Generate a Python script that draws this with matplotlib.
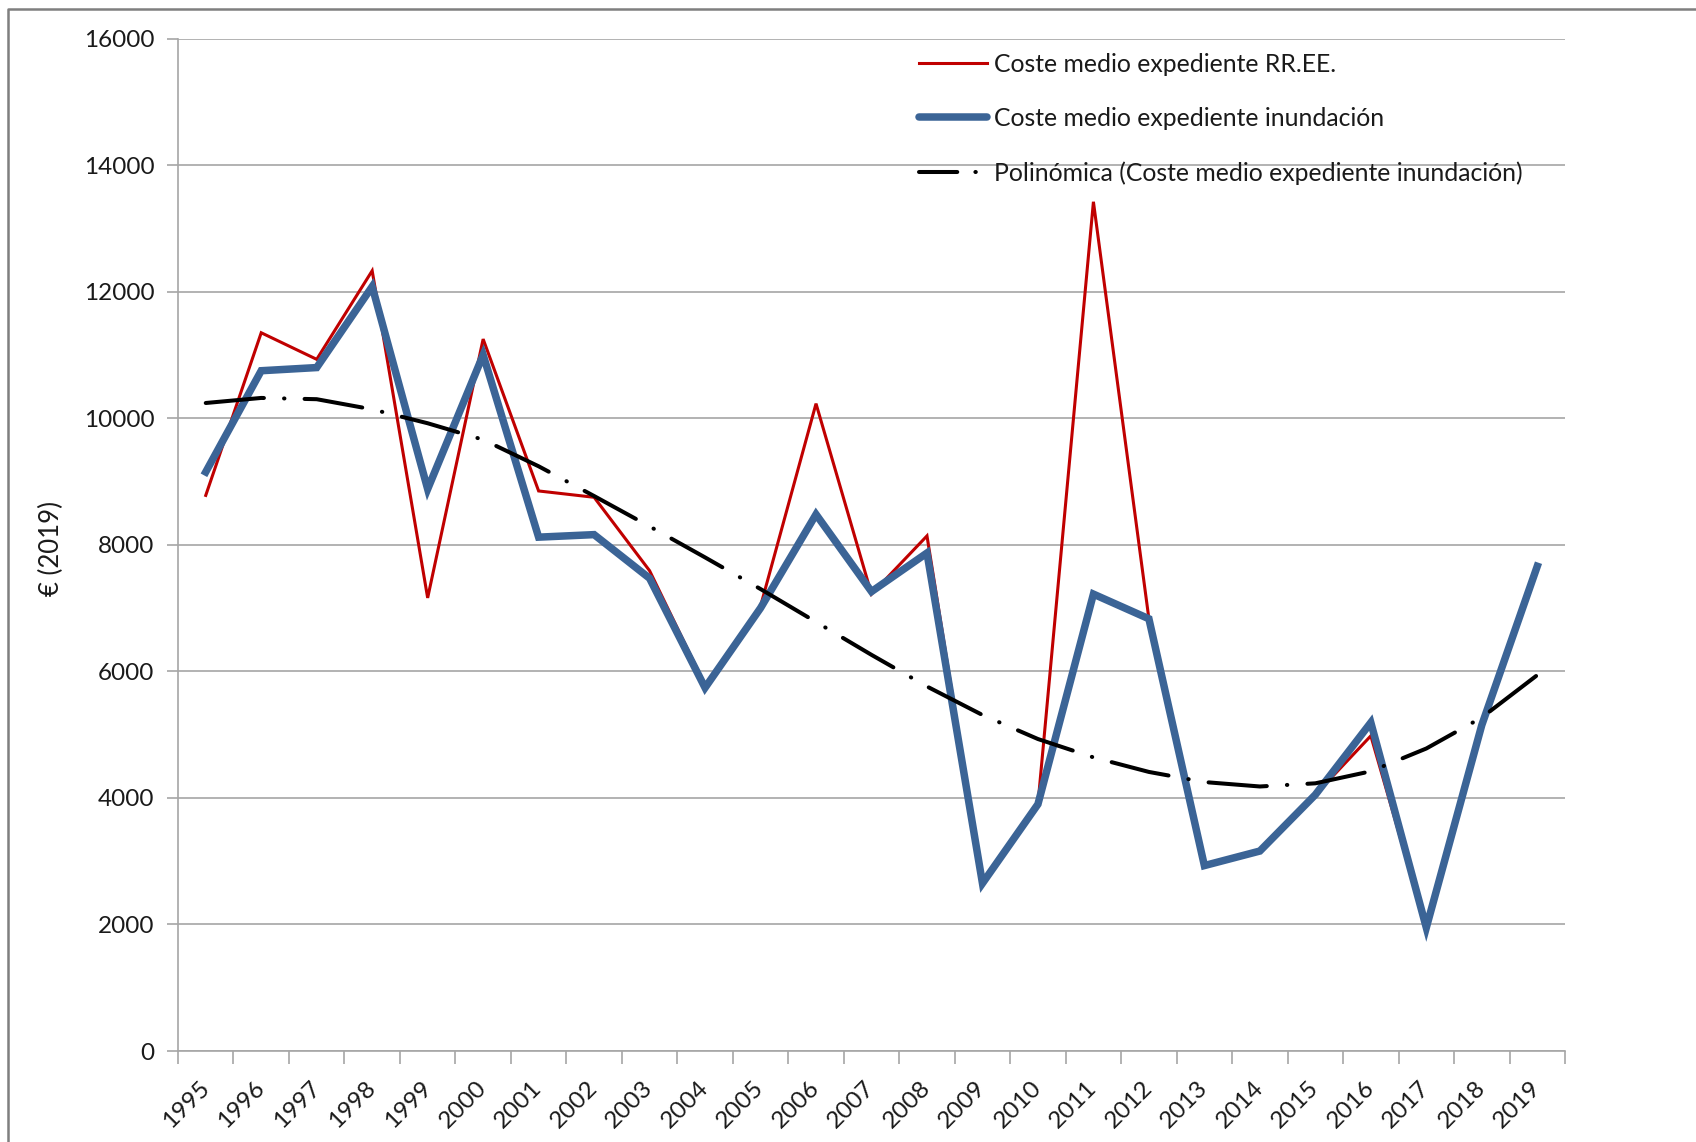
import numpy as np
import matplotlib
matplotlib.use("Agg")
import matplotlib.pyplot as plt
from matplotlib.lines import Line2D

plt.rcParams['font.family'] = ['Lato', 'DejaVu Sans']

# data
years = [str(y) for y in range(1995, 2020)]
coste_rree = [8780, 11350, 10930, 12330, 7160, 11250, 8850, 8750, 7590, 5780,
              7030, 10230, 7220, 8140, 2650, 3900, 13420, 6830, 2930, 3160,
              4050, 4980, 1950, 5150, 7660]
coste_inund = [9150, 10750, 10800, 12080, 8880, 11000, 8120, 8160, 7470, 5740,
               7000, 8480, 7260, 7870, 2650, 3900, 7220, 6830, 2930, 3160,
               4050, 5190, 1950, 5150, 7660]
tendencia = [10240, 10320, 10300, 10140, 9920, 9660, 9240, 8770, 8290, 7800,
             7300, 6780, 6260, 5760, 5310, 4930, 4640, 4410, 4250, 4180,
             4230, 4420, 4780, 5270, 5940]
yticks = list(range(0, 16001, 2000))

grey = '#A6A6A6'
txt = '#1A1A1A'
fs = 17.5
W, H = 1696, 1142
fig = plt.figure(figsize=(W / 100, H / 100), dpi=100)
ax = fig.add_axes([178 / W, 1 - 1051 / H, (1565 - 178) / W, (1051 - 38.5) / H])

x = np.arange(len(years))
ax.plot(x, coste_rree, '-', lw=2.2, color='#C00000', solid_joinstyle='miter')
ax.plot(x, coste_inund, '-', lw=5.4, color='#3B6496', solid_joinstyle='miter')
ax.plot(x, tendencia, lw=2.9, color='black', dashes=(14.5, 5, 0.1, 5),
        dash_capstyle='round')

ax.set_xlim(-0.5, len(years) - 0.5)
ax.set_ylim(0, 16000)
ax.set_yticks(yticks)
ax.set_yticklabels([str(v) for v in yticks], fontsize=fs, color=txt)
ax.tick_params(axis='y', length=8, width=1.2, color=grey, direction='out', pad=9)
ax.yaxis.grid(True, color=grey, lw=1.2)
ax.set_axisbelow(True)

# category boundaries carry the ticks, centres carry the labels
ax.set_xticks(np.arange(-0.5, len(years), 1))
ax.set_xticklabels([])
ax.tick_params(axis='x', which='major', length=9, width=1.2, color=grey, direction='out')
ax.set_xticks(x, minor=True)
ax.set_xticklabels(years, minor=True, rotation=45, ha='right', va='center',
                   rotation_mode='anchor', fontsize=fs, color=txt)
ax.tick_params(axis='x', which='minor', length=0, pad=24)

for s in ['top', 'right']:
    ax.spines[s].set_visible(False)
for s in ['left', 'bottom']:
    ax.spines[s].set_color(grey)
    ax.spines[s].set_linewidth(1.2)

fig.text(51 / W, 1 - 549 / H, '€ (2019)', rotation=90, ha='center', va='center',
         fontsize=18.5, color=txt)

# legend handles (the trend one uses a shorter dash so the dot shows)
handles = [
    Line2D([], [], lw=2.2, color='#C00000'),
    Line2D([], [], lw=5.4, color='#3B6496', solid_capstyle='round'),
    Line2D([], [], lw=2.9, color='black', dashes=(9.5, 4.5, 0.1, 6), dash_capstyle='round'),
]
labels = ['Coste medio expediente RR.EE.',
          'Coste medio expediente inundación',
          'Polinómica (Coste medio expediente inundación)']
ax.legend(handles, labels, loc='upper left', bbox_to_anchor=(919 / W, 1 - 52.5 / H),
          bbox_transform=fig.transFigure, frameon=False, fontsize=17.8,
          handlelength=2.75, handletextpad=0.3, labelspacing=1.27, borderpad=0,
          borderaxespad=0, labelcolor=txt)

# outer frame of the chart (only left and top visible)
fig.add_artist(Line2D([8 / W, 8 / W, 1], [0, 1 - 9 / H, 1 - 9 / H],
                      transform=fig.transFigure, color='#7F7F7F', lw=1.8))

fig.savefig('out.png', dpi=100)
